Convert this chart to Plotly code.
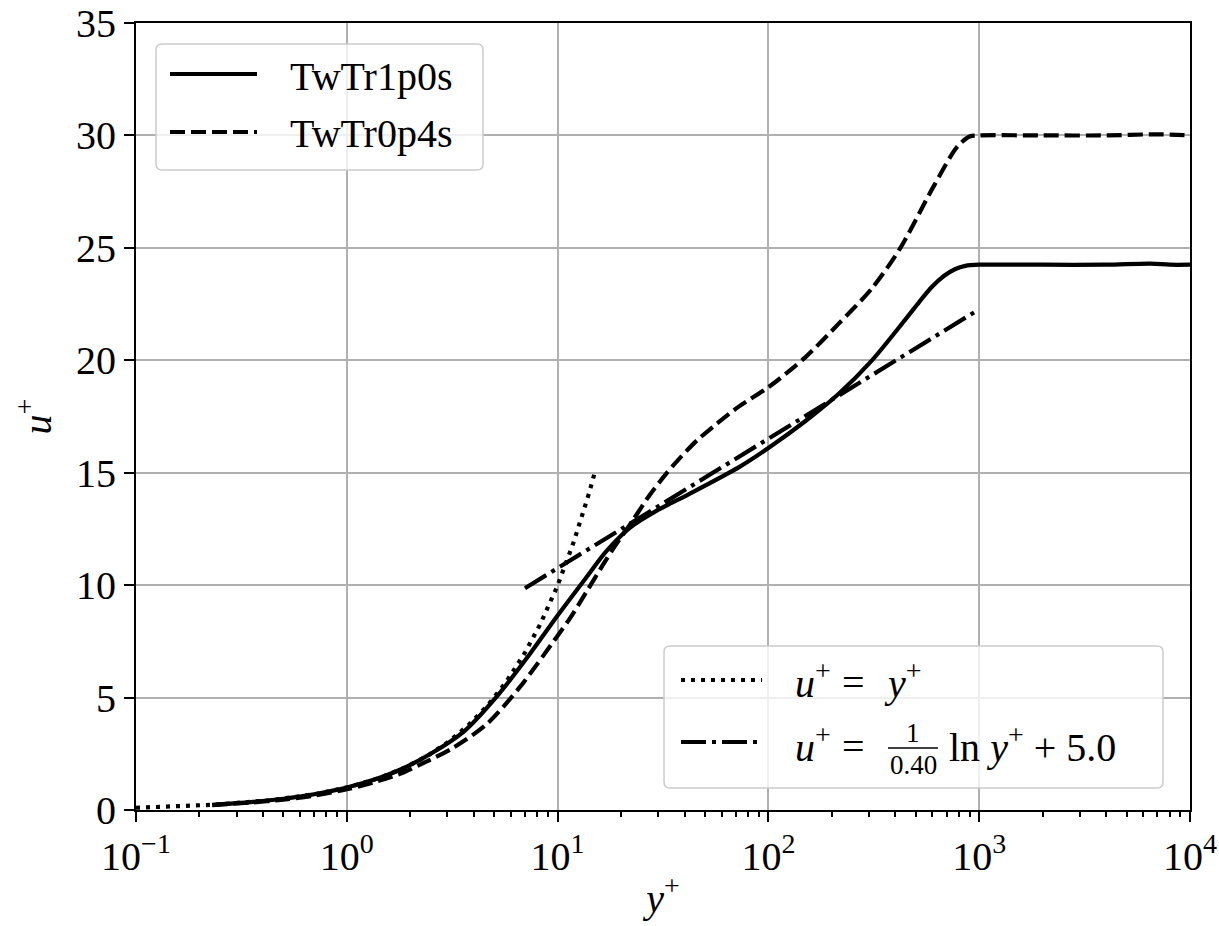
import numpy as np
import plotly.graph_objects as go

# Mean velocity profiles in wall units
yplus_1p0 = [0.23, 0.35, 0.5, 0.7, 1.0, 1.4, 1.8, 2.5, 3.6, 5.2, 7.4, 10, 13.7, 17, 22,
             29.4, 42, 72.6, 100, 150, 215, 310, 445, 520, 594, 680, 767, 860, 1000,
             2000, 4000, 6500, 8000, 10000]
uplus_1p0 = [0.23, 0.35, 0.5, 0.7, 1.0, 1.4, 1.8, 2.5, 3.5, 5.1, 6.95, 8.65, 10.35, 11.5,
             12.55, 13.3, 14.05, 15.25, 16.1, 17.3, 18.5, 20.0, 21.8, 22.6, 23.25, 23.75,
             24.05, 24.2, 24.25, 24.25, 24.25, 24.3, 24.25, 24.25]

yplus_0p4 = [0.23, 0.35, 0.5, 0.7, 1.0, 1.4, 1.8, 2.24, 3.2, 4.6, 6.6, 10, 11.4, 13.7, 16.4,
             18.3, 22.7, 27.3, 32.7, 38, 46, 56.4, 72.6, 100, 150, 215, 310, 423, 605, 787,
             900, 1000, 2000, 4000, 7000, 10000]
uplus_0p4 = [0.22, 0.33, 0.46, 0.64, 0.92, 1.28, 1.62, 2.03, 2.77, 3.81, 5.45, 7.75, 8.5,
             9.7, 10.9, 11.6, 12.87, 14.0, 14.95, 15.65, 16.45, 17.15, 17.95, 18.8, 20.14,
             21.62, 23.2, 25.0, 27.7, 29.5, 29.95, 30.0, 30.0, 30.0, 30.05, 30.0]

# Reference laws: viscous sublayer and log law
kappa = 0.40
B = 5.0
visc_range = (0.1, 15.0)
log_range = (7.0, 1000.0)

y_visc = np.logspace(np.log10(visc_range[0]), np.log10(visc_range[1]), 200)
u_visc = y_visc
y_log = np.logspace(np.log10(log_range[0]), np.log10(log_range[1]), 200)
u_log = np.log(y_log) / kappa + B

xtick_vals = [0.1, 1, 10, 100, 1000, 10000]
xtick_text = ["10<sup>\u22121</sup>", "10<sup>0</sup>", "10<sup>1</sup>",
              "10<sup>2</sup>", "10<sup>3</sup>", "10<sup>4</sup>"]
ytick_vals = [0, 5, 10, 15, 20, 25, 30, 35]

FONT = "Liberation Serif"
FS = 40
LW = 4.2
DASH = "15px,6px"
DOT = "4px,6px"
DASHDOT = "25px,6px,4px,6px"

W, H = 1219, 926
L, R, T, Bm = 136, 29, 23, 116
PW, PH = W - L - R, H - T - Bm


def xp(px):
    return (px - L) / PW


def yp(py):
    return (H - Bm - py) / PH


fig = go.Figure()
fig.add_trace(go.Scatter(x=y_visc, y=u_visc, mode="lines",
                         line=dict(color="black", width=LW, dash=DOT),
                         showlegend=False))
fig.add_trace(go.Scatter(x=y_log, y=u_log, mode="lines",
                         line=dict(color="black", width=LW, dash=DASHDOT),
                         showlegend=False))
fig.add_trace(go.Scatter(x=yplus_1p0, y=uplus_1p0, mode="lines",
                         line=dict(color="black", width=LW, shape="spline", smoothing=0.8),
                         showlegend=False))
fig.add_trace(go.Scatter(x=yplus_0p4, y=uplus_0p4, mode="lines",
                         line=dict(color="black", width=LW, dash=DASH,
                                   shape="spline", smoothing=0.8),
                         showlegend=False))

shapes = []
annotations = []


def path_to_paper(path):
    out = []
    for t in path.split():
        if "," in t:
            a, b = t.split(",")
            out.append(f"{xp(float(a)):.5f},{yp(float(b)):.5f}")
        else:
            out.append(t)
    return " ".join(out)


def rounded_box(x0, y0, x1, y1, r=6):
    path = (f"M {x0 + r},{y0} L {x1 - r},{y0} Q {x1},{y0} {x1},{y0 + r} "
            f"L {x1},{y1 - r} Q {x1},{y1} {x1 - r},{y1} L {x0 + r},{y1} "
            f"Q {x0},{y1} {x0},{y1 - r} L {x0},{y0 + r} Q {x0},{y0} {x0 + r},{y0} Z")
    return dict(type="path", xref="paper", yref="paper", path=path_to_paper(path),
                line=dict(color="#cccccc", width=1.5),
                fillcolor="rgba(255,255,255,0.8)", layer="above")


def legend_line(x0, x1, y, dash):
    return dict(type="line", xref="paper", yref="paper",
                x0=xp(x0), x1=xp(x1), y0=yp(y), y1=yp(y),
                line=dict(color="black", width=LW, dash=dash), layer="above")


def legend_text(x, y, text, size=FS, xanchor="left"):
    return dict(xref="paper", yref="paper", x=xp(x), y=yp(y), text=text,
                showarrow=False, xanchor=xanchor, yanchor="middle",
                font=dict(family=FONT, size=size, color="black"))


# upper-left legend: simulation cases
shapes.append(rounded_box(156, 44, 483, 170))
shapes.append(legend_line(170, 257, 74, "solid"))
shapes.append(legend_line(170, 257, 132, DASH))
annotations.append(legend_text(288, 76, "TwTr1p0s"))
annotations.append(legend_text(288, 134, "TwTr0p4s"))

# lower-right legend: reference laws
shapes.append(rounded_box(664, 646, 1163, 788))
shapes.append(legend_line(681, 762, 680, DOT))
shapes.append(legend_line(681, 762, 742, DASHDOT))
annotations.append(legend_text(793, 680, "<i>u</i><sup>+</sup>"))
annotations.append(legend_text(853, 682, "=", xanchor="center"))
annotations.append(legend_text(882, 680, "<i>y</i><sup>+</sup>"))
annotations.append(legend_text(793, 744, "<i>u</i><sup>+</sup>"))
annotations.append(legend_text(853, 746, "=", xanchor="center"))
annotations.append(legend_text(913, 733, "1", size=27, xanchor="center"))
annotations.append(legend_text(913, 765, "0.40", size=27, xanchor="center"))
shapes.append(dict(type="line", xref="paper", yref="paper",
                   x0=xp(888), x1=xp(938), y0=yp(748), y1=yp(748),
                   line=dict(color="black", width=1.5), layer="above"))
annotations.append(legend_text(947, 744, "ln <i>y</i><sup>+</sup> + 5.0"))

minor_vals = [m * 10.0 ** e for e in range(-1, 4) for m in range(2, 10)]

fig.update_layout(
    width=W, height=H,
    margin=dict(l=L, r=R, t=T, b=Bm, autoexpand=False),
    paper_bgcolor="white", plot_bgcolor="white",
    font=dict(family=FONT, size=FS, color="black"),
    shapes=shapes, annotations=annotations,
    showlegend=False,
)
fig.update_xaxes(
    type="log", range=[-1, 4], automargin=False,
    tickmode="array", tickvals=xtick_vals, ticktext=xtick_text,
    tickfont=dict(family=FONT, size=FS),
    ticks="outside", ticklen=10, tickwidth=2, tickcolor="black",
    showline=True, linecolor="black", linewidth=2, mirror=True,
    showgrid=True, gridcolor="#b0b0b0", gridwidth=2,
    minor=dict(tickmode="array", tickvals=minor_vals, ticks="outside",
               ticklen=5, tickwidth=1.5, tickcolor="black", showgrid=False),
    zeroline=False,
    title=dict(text="<i>y</i><sup>+</sup>", font=dict(family=FONT, size=FS), standoff=6),
)
fig.update_yaxes(
    range=[0, 35], automargin=False, tickmode="array", tickvals=ytick_vals,
    tickfont=dict(family=FONT, size=FS),
    ticks="outside", ticklen=10, tickwidth=2, tickcolor="black",
    showline=True, linecolor="black", linewidth=2, mirror=True,
    showgrid=True, gridcolor="#b0b0b0", gridwidth=2,
    zeroline=False,
    title=dict(text="<i>u</i><sup>+</sup>", font=dict(family=FONT, size=FS), standoff=12),
)

fig.write_html("out.html")
